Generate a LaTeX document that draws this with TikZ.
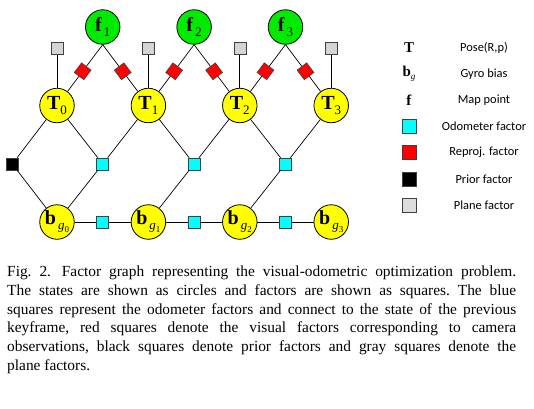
\documentclass[tikz,border=0pt]{standalone}
\usepackage{fontspec}
\setmainfont{Liberation Serif}
\newfontfamily\legendfont{Carlito}
\usetikzlibrary{positioning}

\definecolor{stateyellow}{RGB}{255,255,0}
\definecolor{pointgreen}{RGB}{0,235,0}
\definecolor{odocyan}{RGB}{0,255,255}
\definecolor{reprojred}{RGB}{255,0,0}
\definecolor{planegray}{RGB}{212,212,212}

\newcommand{\lowsub}[1]{\raisebox{-5pt}{\fontsize{13}{13}\selectfont #1}}
\newcommand{\tinysub}[1]{\raisebox{-3pt}{\fontsize{9}{9}\selectfont #1}}

\begin{document}
\begin{tikzpicture}[x=1pt,y=-1pt,
    statenode/.style={circle, draw, line width=0.8pt, minimum size=34.5pt, inner sep=0pt, font=\fontsize{20}{20}\selectfont},
    posenode/.style={statenode, fill=stateyellow},
    biasnode/.style={statenode, fill=stateyellow},
    pointnode/.style={statenode, fill=pointgreen},
    factorbox/.style={rectangle, draw=black!75, line width=0.6pt, minimum size=12pt, inner sep=0pt},
    odobox/.style={factorbox, fill=odocyan},
    reprojbox/.style={factorbox, fill=reprojred},
    priorbox/.style={factorbox, fill=black},
    planebox/.style={factorbox, fill=planegray},
    legendbox/.style={factorbox, minimum size=14pt},
    legendtext/.style={font=\legendfont\fontsize{12.4}{12.4}\selectfont},
    edge/.style={line width=0.7pt}]
\useasboundingbox (0,0) rectangle (534,408);

% Map points
\node[pointnode] (f1) at (102.7,27) {\textbf{f}\hspace{2pt}\lowsub{1}};
\node[pointnode] (f2) at (194.1,27) {\textbf{f}\hspace{2pt}\lowsub{2}};
\node[pointnode] (f3) at (285.5,27) {\textbf{f}\hspace{2pt}\lowsub{3}};

% Plane factors
\node[planebox] (p0) at (57,48.5) {};
\node[planebox] (p1) at (148.4,48.5) {};
\node[planebox] (p2) at (239.8,48.5) {};
\node[planebox] (p3) at (331.2,48.5) {};

% Poses
\node[posenode] (T0) at (57,105.5) {\textbf{T}\lowsub{0}};
\node[posenode] (T1) at (148.4,105.5) {\textbf{T}\lowsub{1}};
\node[posenode] (T2) at (239.8,105.5) {\textbf{T}\lowsub{2}};
\node[posenode] (T3) at (331.2,105.5) {\textbf{T}\lowsub{3}};

% Prior and odometer factors
\node[priorbox] (prior) at (12.3,164) {};
\node[odobox] (o1) at (102.7,164) {};
\node[odobox] (o2) at (194.1,164) {};
\node[odobox] (o3) at (285.5,164) {};

% Gyro biases
\node[biasnode] (b0) at (57,222) {\textbf{b}\hspace{2pt}\lowsub{\textit{g}\tinysub{0}}};
\node[biasnode] (b1) at (148.4,222) {\textbf{b}\hspace{2pt}\lowsub{\textit{g}\tinysub{1}}};
\node[biasnode] (b2) at (239.8,222) {\textbf{b}\hspace{2pt}\lowsub{\textit{g}\tinysub{2}}};
\node[biasnode] (b3) at (331.2,222) {\textbf{b}\hspace{2pt}\lowsub{\textit{g}\tinysub{3}}};

% Bias odometer factors
\node[odobox] (ob1) at (102.7,222) {};
\node[odobox] (ob2) at (194.1,222) {};
\node[odobox] (ob3) at (285.5,222) {};

% Edges
\draw[edge] (p0) -- (T0);
\draw[edge] (p1) -- (T1);
\draw[edge] (p2) -- (T2);
\draw[edge] (p3) -- (T3);
\draw[edge] (f1.south) -- node[reprojbox, sloped, pos=0.57] (r1) {} (T0);
\draw[edge] (f1.south) -- node[reprojbox, sloped, pos=0.57] (r2) {} (T1);
\draw[edge] (f2.south) -- node[reprojbox, sloped, pos=0.57] (r3) {} (T1);
\draw[edge] (f2.south) -- node[reprojbox, sloped, pos=0.57] (r4) {} (T2);
\draw[edge] (f3.south) -- node[reprojbox, sloped, pos=0.57] (r5) {} (T2);
\draw[edge] (f3.south) -- node[reprojbox, sloped, pos=0.57] (r6) {} (T3);
\draw[edge] (T0) -- (prior) -- (b0);
\draw[edge] (T0) -- (o1) -- (T1);
\draw[edge] (o1) -- (b0);
\draw[edge] (T1) -- (o2) -- (T2);
\draw[edge] (o2) -- (b1);
\draw[edge] (T2) -- (o3) -- (T3);
\draw[edge] (o3) -- (b2);
\draw[edge] (b0) -- (ob1) -- (b1) -- (ob2) -- (b2) -- (ob3) -- (b3);

% Legend
\node[font=\fontsize{15}{15}\selectfont] (lT) at (409,47.5) {\textbf{T}};
\node[legendtext] (lTt) at (484,47.5) {Pose(R,p)};
\node[font=\fontsize{15}{15}\selectfont] (lb) at (409,73.8) {\textbf{b}\tinysub{\textit{g}}};
\node[legendtext] (lbt) at (484,73.8) {Gyro bias};
\node[font=\fontsize{15}{15}\selectfont] (lf) at (409,100.1) {\textbf{f}};
\node[legendtext] (lft) at (484,100.1) {Map point};
\node[legendbox, fill=odocyan] (lo) at (409.3,126.4) {};
\node[legendtext] (lot) at (484,126.4) {Odometer factor};
\node[legendbox, fill=reprojred] (lr) at (409.3,152.7) {};
\node[legendtext] (lrt) at (484,152.7) {Reproj. factor};
\node[legendbox, fill=black] (lp) at (409.3,179) {};
\node[legendtext] (lpt) at (484,179) {Prior factor};
\node[legendbox, fill=planegray!80!white] (lg) at (409.3,205.3) {};
\node[legendtext] (lgt) at (484,205.3) {Plane factor};

% Caption
\node[anchor=north west, text width=509pt, align=justify, inner sep=0pt,
      font=\fontsize{15.4}{18.7}\selectfont] (caption) at (7,266) {%
\hyphenpenalty=10000 \tolerance=10000 \frenchspacing
Fig.~2.\hspace{0.7em}Factor graph representing the visual-odometric optimization problem.\linebreak
The states are shown as circles and factors are shown as squares. The blue\linebreak
squares represent the odometer factors and connect to the state of the previous\linebreak
keyframe, red squares denote the visual factors corresponding to camera\linebreak
observations, black squares denote prior factors and gray squares denote the\linebreak
plane factors.};

\end{tikzpicture}
\end{document}
